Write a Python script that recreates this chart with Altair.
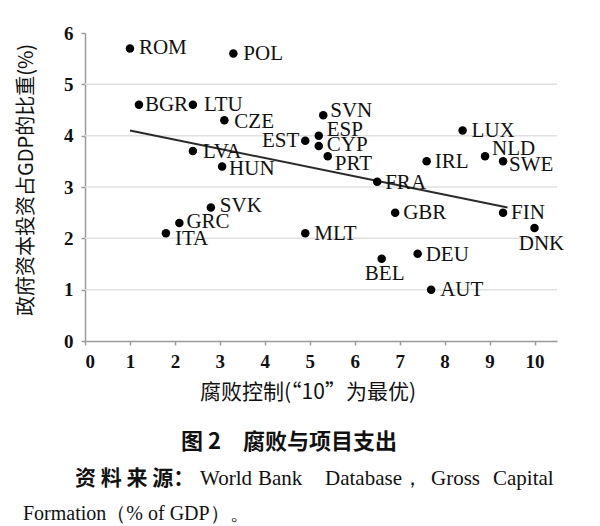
import altair as alt
import pandas as pd

# ---- data ----
countries = ["ROM", "POL", "BGR", "LTU", "CZE", "LVA", "HUN", "EST", "SVN", "ESP",
             "CYP", "PRT", "FRA", "IRL", "LUX", "NLD", "SWE", "GBR", "FIN", "DNK",
             "MLT", "BEL", "DEU", "AUT", "SVK", "GRC", "ITA"]
corruption = [1.0, 3.3, 1.2, 2.4, 3.1, 2.4, 3.05, 4.9, 5.3, 5.2,
              5.2, 5.4, 6.5, 7.6, 8.4, 8.9, 9.3, 6.9, 9.3, 10.0,
              4.9, 6.6, 7.4, 7.7, 2.8, 2.1, 1.8]
invest_share = [5.7, 5.6, 4.6, 4.6, 4.3, 3.7, 3.4, 3.9, 4.4, 4.0,
                3.8, 3.6, 3.1, 3.5, 4.1, 3.6, 3.5, 2.5, 2.5, 2.2,
                2.1, 1.6, 1.7, 1.0, 2.6, 2.3, 2.1]
trend_x = [1.0, 9.4]
trend_y = [4.1, 2.6]
x_ticks = [0, 1, 2, 3, 4, 5, 6, 7, 8, 9, 10]
y_ticks = [0, 1, 2, 3, 4, 5, 6]
grid_y = [1, 2, 3, 4, 5]

df = pd.DataFrame({"country": countries, "x": corruption, "y": invest_share})
trend = pd.DataFrame({"x": trend_x, "y": trend_y})
grid = pd.DataFrame({"y": grid_y})

# ---- label placement (style) ----
label_place = {
    "ROM": (9, 0, "left"), "POL": (10, 0, "left"), "BGR": (6, 0, "left"),
    "LTU": (11, 0, "left"), "CZE": (10, 2, "left"), "LVA": (10, 1, "left"),
    "HUN": (7, 3, "left"), "EST": (-6, 0, "right"), "SVN": (7, -4, "left"),
    "ESP": (8, -6, "left"), "CYP": (8, -1, "left"), "PRT": (7, 8, "left"),
    "FRA": (8, 1, "left"), "IRL": (8, 1, "left"), "LUX": (9, 0, "left"),
    "NLD": (7, -7, "left"), "SWE": (6, 4, "left"), "GBR": (8, 0, "left"),
    "FIN": (8, 0, "left"), "DNK": (7, 16, "center"), "MLT": (9, 1, "left"),
    "BEL": (3, 15, "center"), "DEU": (8, 1, "left"), "AUT": (9, 0, "left"),
    "SVK": (9, -2, "left"), "GRC": (7, -1, "left"), "ITA": (9, 6, "left"),
}

W, H = 472, 308
serif = "Liberation Serif"
cjk = "Noto Sans CJK SC"

xscale = alt.Scale(domain=[0, 10.5], nice=False, zero=True)
yscale = alt.Scale(domain=[0, 6], nice=False)

x_axis = alt.Axis(values=x_ticks, grid=False, title=None, domainColor="#9a9a9a",
                  domainWidth=1.5, tickColor="#9a9a9a", tickSize=4, tickWidth=1.5,
                  labelFont=serif, labelFontSize=19, labelFontWeight="bold",
                  labelColor="#111", labelPadding=7)
y_axis = alt.Axis(values=y_ticks, grid=False, title=None, domainColor="#9a9a9a",
                  domainWidth=1.5, tickColor="#9a9a9a", tickSize=4, tickWidth=1.5,
                  labelFont=serif, labelFontSize=19, labelFontWeight="bold",
                  labelColor="#111", labelPadding=8)

grid_layer = alt.Chart(grid).mark_rule(color="#e0e0e0", strokeWidth=1.5).encode(
    y=alt.Y("y:Q", scale=yscale, axis=y_axis),
    x=alt.value(0), x2=alt.value(W),
)

points = alt.Chart(df).mark_circle(size=72, color="#000", opacity=1).encode(
    x=alt.X("x:Q", scale=xscale, axis=x_axis),
    y=alt.Y("y:Q", scale=yscale, axis=y_axis),
)

line = alt.Chart(trend).mark_line(color="#2a2a2a", strokeWidth=2).encode(
    x=alt.X("x:Q", scale=xscale),
    y=alt.Y("y:Q", scale=yscale),
)

groups = {}
for c, p in label_place.items():
    groups.setdefault(p, []).append(c)

label_layers = []
for (dx, dy, align), members in groups.items():
    label_layers.append(
        alt.Chart(df).transform_filter(
            alt.FieldOneOfPredicate(field="country", oneOf=members)
        ).mark_text(font=serif, fontSize=21, color="#111", align=align,
                    baseline="middle", dx=dx, dy=dy).encode(
            x=alt.X("x:Q", scale=xscale),
            y=alt.Y("y:Q", scale=yscale),
            text="country:N",
        )
    )

def note(text, x, y, size, font=cjk, weight="normal", align="center", angle=0):
    kw = dict(text=text, font=font, fontSize=size, fontWeight=weight,
              align=align, baseline="middle", color="#111")
    if angle:
        kw["angle"] = angle
    return alt.Chart(grid).transform_filter("datum.y == 1").mark_text(**kw).encode(
        x=alt.value(x), y=alt.value(y))

notes = [
    note("政府资本投资占GDP的比重(%)", -58, 147, 20, angle=270),
    note("腐败控制(“10”为最优)", 223, 360, 21),
    note("图 2　腐败与项目支出", 204, 409, 22, weight="bold"),
    note("资 料 来 源：", -10, 446, 21, weight="bold", align="left"),
    note("World", 115, 446, 21, font=serif, align="left"),
    note("Bank", 173, 446, 21, font=serif, align="left"),
    note("Database，", 240, 446, 21, font=serif, align="left"),
    note("Gross", 346, 446, 21, font=serif, align="left"),
    note("Capital", 408, 446, 21, font=serif, align="left"),
    note("Formation（% of GDP）。", -62, 481, 20, font=serif, align="left"),
]

chart = alt.layer(grid_layer, line, points, *label_layers, *notes).properties(
    width=W, height=H,
    padding={"left": 85, "top": 33, "right": 43, "bottom": 185},
    autosize=alt.AutoSizeParams(type="none"),
    background="white",
).configure_view(stroke=None)

chart.save("out.html", embed_options={"renderer": "svg", "actions": False})
